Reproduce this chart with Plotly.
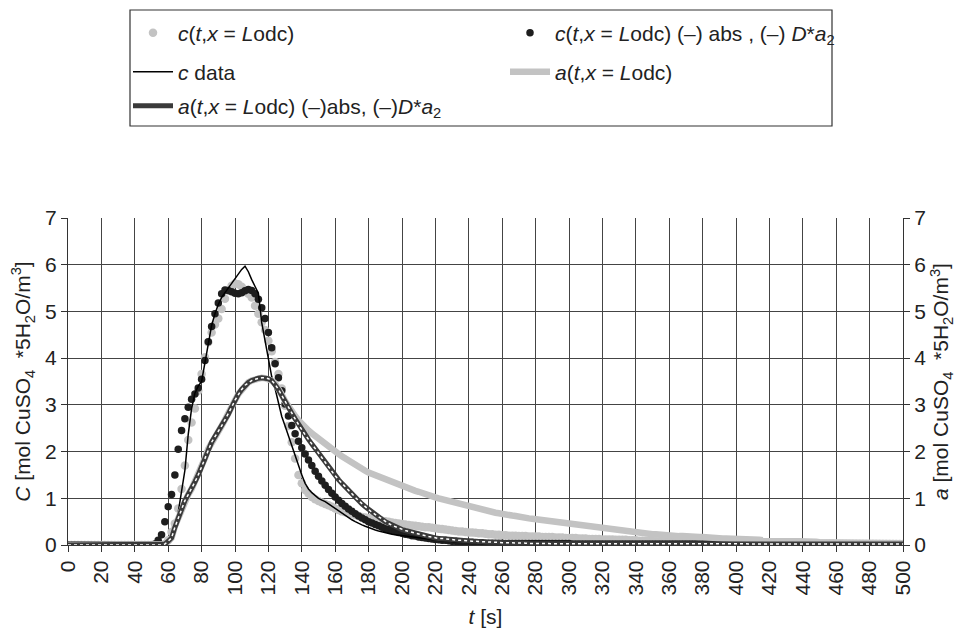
import plotly.graph_objects as go

# time grid (s) for all series: 0, 2, 4, ... 500
t = list(range(0, 501, 2))

# c(t, x = Lodc)  (light grey dots)
c_model = [
    0, 0, 0, 0, 0, 0, 0, 0, 0, 0,
    0, 0, 0, 0, 0, 0, 0, 0, 0, 0,
    0, 0, 0, 0, 0, 0, 0, 0, 0, 0.02,
    0.1, 0.28, 0.46, 0.78, 1.2, 1.7, 2.25, 2.62, 2.92, 3.3,
    3.66, 4.02, 4.34, 4.55, 4.72, 4.85, 5.05, 5.27, 5.45, 5.55,
    5.6, 5.58, 5.53, 5.46, 5.38, 5.3, 5.12, 4.95, 4.77, 4.6,
    4.37, 4.15, 3.92, 3.66, 3.35, 2.98, 2.55, 2.2, 1.85, 1.5,
    1.32, 1.18, 1.1, 1.03, 0.98, 0.94, 0.91, 0.88, 0.85, 0.82,
    0.78, 0.75, 0.72, 0.70, 0.68, 0.66, 0.64, 0.62, 0.60, 0.59,
    0.58, 0.57, 0.55, 0.54, 0.52, 0.51, 0.50, 0.48, 0.47, 0.46,
    0.45, 0.44, 0.43, 0.42, 0.41, 0.40, 0.39, 0.38, 0.38, 0.37,
    0.36, 0.35, 0.34, 0.33, 0.32, 0.31, 0.30, 0.29, 0.29, 0.28,
    0.27, 0.27, 0.26, 0.25, 0.25, 0.24, 0.23, 0.23, 0.22, 0.22,
    0.21, 0.21, 0.20, 0.20, 0.20, 0.19, 0.19, 0.19, 0.18, 0.18,
    0.18, 0.18, 0.17, 0.17, 0.17, 0.17, 0.16, 0.16, 0.16, 0.15,
    0.15, 0.15, 0.15, 0.14, 0.14, 0.14, 0.13, 0.13, 0.13, 0.13,
    0.12, 0.12, 0.12, 0.12, 0.11, 0.11, 0.11, 0.11, 0.10, 0.10,
    0.10, 0.09, 0.09, 0.09, 0.09, 0.09, 0.08, 0.08, 0.08, 0.08,
    0.08, 0.07, 0.07, 0.07, 0.07, 0.07, 0.06, 0.06, 0.06, 0.06,
    0.06, 0.05, 0.05, 0.05, 0.05, 0.05, 0.05, 0.05, 0.05, 0.05,
    0.05, 0.04, 0.04, 0.04, 0.04, 0.04, 0.04, 0.04, 0.04, 0.04,
    0.04, 0.03, 0.03, 0.03, 0.03, 0.03, 0.03, 0.03, 0.03, 0.03,
    0.03, 0.03, 0.03, 0.03, 0.03, 0.03, 0.03, 0.03, 0.03, 0.03,
    0.02, 0.02, 0.02, 0.02, 0.02, 0.02, 0.02, 0.02, 0.02, 0.02,
    0.02, 0.02, 0.02, 0.02, 0.02, 0.02, 0.02, 0.02, 0.02, 0.02,
    0.02,
]

# c(t, x = Lodc) (-) abs, (-) D*a2  (black dots)
c_abs = [
    0, 0, 0, 0, 0, 0, 0, 0, 0, 0,
    0, 0, 0, 0, 0, 0, 0, 0, 0, 0,
    0, 0, 0, 0, 0, 0, 0.02, 0.1, 0.22, 0.5,
    0.82, 1.08, 1.5, 2.05, 2.45, 2.7, 2.95, 3.12, 3.23, 3.36,
    3.55, 3.95, 4.35, 4.68, 4.95, 5.18, 5.38, 5.46, 5.45, 5.42,
    5.39, 5.38, 5.4, 5.44, 5.47, 5.45, 5.38, 5.26, 5.08, 4.85,
    4.55, 4.22, 3.88, 3.58, 3.30, 3.02, 2.76, 2.56, 2.38, 2.22,
    2.08, 1.95, 1.82, 1.70, 1.58, 1.47, 1.37, 1.28, 1.19, 1.11,
    1.03, 0.96, 0.89, 0.83, 0.77, 0.72, 0.67, 0.62, 0.58, 0.54,
    0.50, 0.47, 0.44, 0.41, 0.38, 0.35, 0.33, 0.31, 0.29, 0.27,
    0.25, 0.23, 0.22, 0.20, 0.19, 0.17, 0.16, 0.15, 0.14, 0.13,
    0.12, 0.11, 0.10, 0.10, 0.09, 0.08, 0.08, 0.07, 0.07, 0.06,
    0.06, 0.06, 0.05, 0.05, 0.05, 0.04, 0.04, 0.04, 0.04, 0.04,
    0.04, 0.03, 0.03, 0.03, 0.03, 0.03, 0.03, 0.03, 0.03, 0.03,
    0.03, 0.03, 0.03, 0.03, 0.03, 0.03, 0.03, 0.03, 0.03, 0.03,
    0.03, 0.02, 0.02, 0.02, 0.02, 0.02, 0.02, 0.02, 0.02, 0.02,
    0.02, 0.02, 0.02, 0.02, 0.02, 0.02, 0.02, 0.02, 0.02, 0.02,
    0.02, 0.02, 0.02, 0.02, 0.02, 0.02, 0.02, 0.02, 0.02, 0.02,
    0.02, 0.02, 0.02, 0.02, 0.02, 0.02, 0.02, 0.02, 0.02, 0.02,
    0.02, 0.02, 0.02, 0.02, 0.02, 0.02, 0.02, 0.02, 0.02, 0.02,
    0.01, 0.01, 0.01, 0.01, 0.01, 0.01, 0.01, 0.01, 0.01, 0.01,
    0.01, 0.01, 0.01, 0.01, 0.01, 0.01, 0.01, 0.01, 0.01, 0.01,
    0.01, 0.01, 0.01, 0.01, 0.01, 0.01, 0.01, 0.01, 0.01, 0.01,
    0.01, 0.01, 0.01, 0.01, 0.01, 0.01, 0.01, 0.01, 0.01, 0.01,
    0.01, 0.01, 0.01, 0.01, 0.01, 0.01, 0.01, 0.01, 0.01, 0.01,
    0.01,
]

# c data  (thin black line)
c_data = [
    0, 0, 0, 0, 0, 0, 0, 0, 0, 0,
    0, 0, 0, 0, 0, 0, 0, 0, 0, 0,
    0, 0, 0, 0, 0, 0, 0, 0, 0, 0,
    0.03, 0.1, 0.35, 0.7, 1.15, 1.6, 2.37, 2.92, 3.25, 3.4,
    3.5, 3.9, 4.35, 4.7, 4.95, 5.15, 5.3, 5.4, 5.5, 5.6,
    5.69, 5.8, 5.9, 5.97, 5.85, 5.68, 5.52, 5.39, 4.76, 4.39,
    3.96, 3.6, 3.35, 3.05, 2.75, 2.55, 2.33, 2.12, 1.9, 1.69,
    1.5, 1.32, 1.2, 1.12, 1.05, 1.0, 0.96, 0.93, 0.88, 0.83,
    0.78, 0.74, 0.69, 0.63, 0.58, 0.54, 0.50, 0.46, 0.43, 0.40,
    0.37, 0.34, 0.32, 0.30, 0.28, 0.26, 0.25, 0.23, 0.22, 0.21,
    0.20, 0.19, 0.18, 0.17, 0.16, 0.15, 0.14, 0.13, 0.12, 0.11,
    0.10, 0.10, 0.09, 0.09, 0.08, 0.08, 0.07, 0.07, 0.06, 0.06,
    0.05, 0.05, 0.04, 0.04, 0.03, 0.03, 0.03, 0.02, 0.02, 0.02,
    0.02, 0.02, 0.02, 0.02, 0.02, 0.02, 0.02, 0.02, 0.02, 0.02,
    0.02, 0.02, 0.02, 0.02, 0.02, 0.02, 0.02, 0.02, 0.02, 0.02,
    0.02, 0.02, 0.02, 0.02, 0.02, 0.02, 0.02, 0.02, 0.02, 0.02,
    0.01, 0.01, 0.01, 0.01, 0.01, 0.01, 0.01, 0.01, 0.01, 0.01,
    0.01, 0.01, 0.01, 0.01, 0.01, 0.01, 0.01, 0.01, 0.01, 0.01,
    0.01, 0.01, 0.01, 0.01, 0.01, 0.01, 0.01, 0.01, 0.01, 0.01,
    0.01, 0.01, 0.01, 0.01, 0.01, 0.01, 0.01, 0.01, 0.01, 0.01,
    0.01, 0.01, 0.01, 0.01, 0.01, 0.01, 0.01, 0.01, 0.01, 0.01,
    0.01, 0.01, 0.01, 0.01, 0.01, 0.01, 0.01, 0.01, 0.01, 0.01,
    0.01, 0.01, 0.01, 0.01, 0.01, 0.01, 0.01, 0.01, 0.01, 0.01,
    0.01, 0.01, 0.01, 0.01, 0.01, 0.01, 0.01, 0.01, 0.01, 0.01,
    0.01, 0.01, 0.01, 0.01, 0.01, 0.01, 0.01, 0.01, 0.01, 0.01,
    0.01,
]

# a(t, x = Lodc)  (thick light grey line)
a_model = [
    0, 0, 0, 0, 0, 0, 0, 0, 0, 0,
    0, 0, 0, 0, 0, 0, 0, 0, 0, 0,
    0, 0, 0, 0, 0, 0, 0, 0, 0, 0.02,
    0.08, 0.15, 0.4, 0.58, 0.78, 0.95, 1.08, 1.2, 1.35, 1.5,
    1.68, 1.86, 2.06, 2.2, 2.32, 2.43, 2.55, 2.68, 2.8, 2.95,
    3.1, 3.23, 3.33, 3.42, 3.48, 3.52, 3.55, 3.57, 3.58, 3.57,
    3.55, 3.52, 3.46, 3.36, 3.22, 3.08, 2.96, 2.86, 2.76, 2.67,
    2.58, 2.51, 2.45, 2.39, 2.33, 2.27, 2.21, 2.16, 2.10, 2.05,
    2.00, 1.95, 1.90, 1.85, 1.80, 1.75, 1.71, 1.67, 1.63, 1.59,
    1.55, 1.52, 1.49, 1.46, 1.43, 1.40, 1.37, 1.34, 1.31, 1.28,
    1.26, 1.24, 1.21, 1.19, 1.16, 1.14, 1.11, 1.09, 1.06, 1.04,
    1.02, 1.00, 0.98, 0.96, 0.94, 0.92, 0.90, 0.88, 0.86, 0.84,
    0.82, 0.80, 0.79, 0.77, 0.75, 0.74, 0.72, 0.71, 0.69, 0.68,
    0.66, 0.65, 0.64, 0.63, 0.62, 0.60, 0.59, 0.58, 0.57, 0.56,
    0.55, 0.54, 0.53, 0.53, 0.52, 0.51, 0.50, 0.50, 0.49, 0.48,
    0.47, 0.46, 0.45, 0.44, 0.43, 0.42, 0.41, 0.40, 0.39, 0.38,
    0.37, 0.36, 0.35, 0.34, 0.33, 0.32, 0.31, 0.30, 0.29, 0.28,
    0.27, 0.26, 0.25, 0.25, 0.24, 0.23, 0.23, 0.22, 0.22, 0.21,
    0.21, 0.20, 0.20, 0.19, 0.19, 0.18, 0.18, 0.18, 0.17, 0.17,
    0.17, 0.16, 0.16, 0.15, 0.15, 0.15, 0.14, 0.14, 0.14, 0.13,
    0.13, 0.13, 0.12, 0.12, 0.12, 0.11, 0.11, 0.11, 0.10, 0.10,
    0.10, 0.09, 0.09, 0.09, 0.09, 0.08, 0.08, 0.08, 0.08, 0.07,
    0.07, 0.07, 0.07, 0.07, 0.07, 0.06, 0.06, 0.06, 0.06, 0.06,
    0.06, 0.06, 0.06, 0.06, 0.06, 0.05, 0.05, 0.05, 0.05, 0.05,
    0.05, 0.05, 0.05, 0.05, 0.05, 0.05, 0.05, 0.05, 0.05, 0.05,
    0.04,
]

# a(t, x = Lodc) (-) abs, (-) D*a2  (hatched line)
a_abs = [
    0, 0, 0, 0, 0, 0, 0, 0, 0, 0,
    0, 0, 0, 0, 0, 0, 0, 0, 0, 0,
    0, 0, 0, 0, 0, 0, 0, 0, 0, 0.02,
    0.08, 0.15, 0.38, 0.58, 0.77, 0.95, 1.08, 1.2, 1.35, 1.5,
    1.68, 1.86, 2.05, 2.2, 2.32, 2.43, 2.55, 2.68, 2.8, 2.95,
    3.1, 3.23, 3.33, 3.42, 3.48, 3.52, 3.55, 3.57, 3.58, 3.58,
    3.56, 3.52, 3.44, 3.33, 3.20, 3.06, 2.94, 2.82, 2.70, 2.58,
    2.46, 2.36, 2.26, 2.16, 2.06, 1.96, 1.86, 1.77, 1.68, 1.58,
    1.48, 1.40, 1.32, 1.24, 1.16, 1.09, 1.02, 0.95, 0.88, 0.82,
    0.76, 0.70, 0.65, 0.60, 0.55, 0.50, 0.46, 0.42, 0.39, 0.36,
    0.33, 0.31, 0.29, 0.27, 0.25, 0.23, 0.21, 0.20, 0.18, 0.17,
    0.15, 0.14, 0.14, 0.13, 0.12, 0.12, 0.11, 0.10, 0.10, 0.09,
    0.09, 0.08, 0.08, 0.07, 0.07, 0.07, 0.06, 0.06, 0.06, 0.05,
    0.05, 0.05, 0.05, 0.04, 0.04, 0.04, 0.04, 0.04, 0.03, 0.03,
    0.03, 0.03, 0.03, 0.03, 0.03, 0.03, 0.03, 0.03, 0.03, 0.03,
    0.02, 0.02, 0.02, 0.02, 0.02, 0.02, 0.02, 0.02, 0.02, 0.02,
    0.02, 0.02, 0.02, 0.02, 0.02, 0.02, 0.02, 0.02, 0.02, 0.02,
    0.02, 0.02, 0.02, 0.02, 0.02, 0.02, 0.02, 0.02, 0.02, 0.02,
    0.02, 0.02, 0.02, 0.02, 0.02, 0.02, 0.02, 0.02, 0.02, 0.02,
    0.02, 0.02, 0.02, 0.02, 0.02, 0.02, 0.02, 0.02, 0.02, 0.02,
    0.02, 0.02, 0.02, 0.02, 0.02, 0.02, 0.02, 0.02, 0.02, 0.02,
    0.02, 0.02, 0.02, 0.02, 0.02, 0.02, 0.02, 0.02, 0.02, 0.02,
    0.02, 0.02, 0.02, 0.02, 0.02, 0.02, 0.02, 0.02, 0.02, 0.02,
    0.02, 0.02, 0.02, 0.02, 0.02, 0.02, 0.02, 0.02, 0.02, 0.02,
    0.02, 0.02, 0.02, 0.02, 0.02, 0.02, 0.02, 0.02, 0.02, 0.02,
    0.02,
]

x_ticks = list(range(0, 501, 20))
y_ticks = [0, 1, 2, 3, 4, 5, 6, 7]

names = {
    "c_model": "<i>c</i>(<i>t</i>,<i>x</i> = <i>L</i>odc)",
    "c_abs": "<i>c</i>(<i>t</i>,<i>x</i> = <i>L</i>odc) (–) abs , (–) <i>D</i>*<i>a</i><sub>2</sub>",
    "c_data": "<i>c</i> data",
    "a_model": "<i>a</i>(<i>t</i>,<i>x</i> = <i>L</i>odc)",
    "a_abs": "<i>a</i>(<i>t</i>,<i>x</i> = <i>L</i>odc) (–)abs, (–)<i>D</i>*<i>a</i><sub>2</sub>",
}

GREY = "#c3c3c3"
DARK = "#1e1e1e"
FONT = "Liberation Sans, Arial, sans-serif"
TXT = "#222"

fig = go.Figure()

fig.add_trace(go.Scatter(x=t, y=a_model, mode="lines", name=names["a_model"],
                         line=dict(color=GREY, width=6.5), legend="legend2",
                         legendrank=2, yaxis="y2"))
fig.add_trace(go.Scatter(x=t, y=c_model, mode="markers", name=names["c_model"],
                         marker=dict(color=GREY, size=8.5), legend="legend", legendrank=1))
fig.add_trace(go.Scatter(x=t, y=a_abs, mode="lines", name=names["a_abs"],
                         line=dict(color="#3a3a3a", width=5), legend="legend3",
                         legendrank=1, yaxis="y2"))
fig.add_trace(go.Scatter(x=t, y=a_abs, mode="lines", showlegend=False, hoverinfo="skip",
                         line=dict(color="white", width=1.5, dash="dot"), yaxis="y2"))
fig.add_trace(go.Scatter(x=t, y=c_abs, mode="markers", name=names["c_abs"],
                         marker=dict(color=DARK, size=7.5), legend="legend", legendrank=2))
fig.add_trace(go.Scatter(x=t, y=c_data, mode="lines", name=names["c_data"],
                         line=dict(color="black", width=1.5), legend="legend2",
                         legendrank=1))

axis_common = dict(
    tickfont=dict(family=FONT, size=21, color=TXT),
    ticks="outside", ticklen=6, tickcolor="#333",
    showline=True, linecolor="#333", linewidth=1.2,
    zeroline=False, automargin=False,
)

# plot area: x 68..903, y 218..545 (px)
PL, PR, PT, PB = 68, 903, 218, 545
PW, PH = PR - PL, PB - PT


def px_x(p):
    return (p - PL) / PW


def px_y(p):
    return (PB - p) / PH


leg_common = dict(orientation="h", xanchor="left", yanchor="middle",
                  borderwidth=0, bgcolor="rgba(0,0,0,0)",
                  font=dict(family=FONT, size=21, color=TXT),
                  entrywidth=322, itemwidth=40, traceorder="normal")

fig.update_layout(
    width=962, height=628,
    margin=dict(l=PL, r=962 - PR, t=PT, b=628 - PB, autoexpand=False),
    paper_bgcolor="white", plot_bgcolor="white",
    font=dict(family=FONT, size=21, color=TXT),
    xaxis=dict(range=[0, 500], tickvals=x_ticks, tickangle=-90,
               showgrid=True, gridcolor="#444", gridwidth=1.1,
               title=dict(text="<i>t</i> [s]", font=dict(size=21), standoff=16),
               **axis_common),
    yaxis=dict(range=[0, 7], tickvals=y_ticks,
               showgrid=True, gridcolor="#444", gridwidth=1.1,
               title=dict(text="<i>C</i> [mol CuSO<sub>4</sub>  *5H<sub>2</sub>O/m<sup>3</sup>]",
                          font=dict(size=21), standoff=8),
               **axis_common),
    yaxis2=dict(range=[0, 7], tickvals=y_ticks, overlaying="y", side="right",
                showgrid=False,
                title=dict(text="<i>a</i> [mol CuSO<sub>4</sub>  *5H<sub>2</sub>O/m<sup>3</sup>]",
                           font=dict(size=21), standoff=8),
                **axis_common),
    legend=dict(x=px_x(128), y=px_y(33), **leg_common),
    legend2=dict(x=px_x(128), y=px_y(72), **leg_common),
    legend3=dict(x=px_x(128), y=px_y(106), **leg_common),
    shapes=[dict(type="rect", xref="paper", yref="paper",
                 x0=px_x(130), x1=px_x(832), y0=px_y(126), y1=px_y(10),
                 line=dict(color="#333", width=1.2), fillcolor="rgba(0,0,0,0)",
                 layer="above")],
    showlegend=True,
)

fig.write_html("out.html")
